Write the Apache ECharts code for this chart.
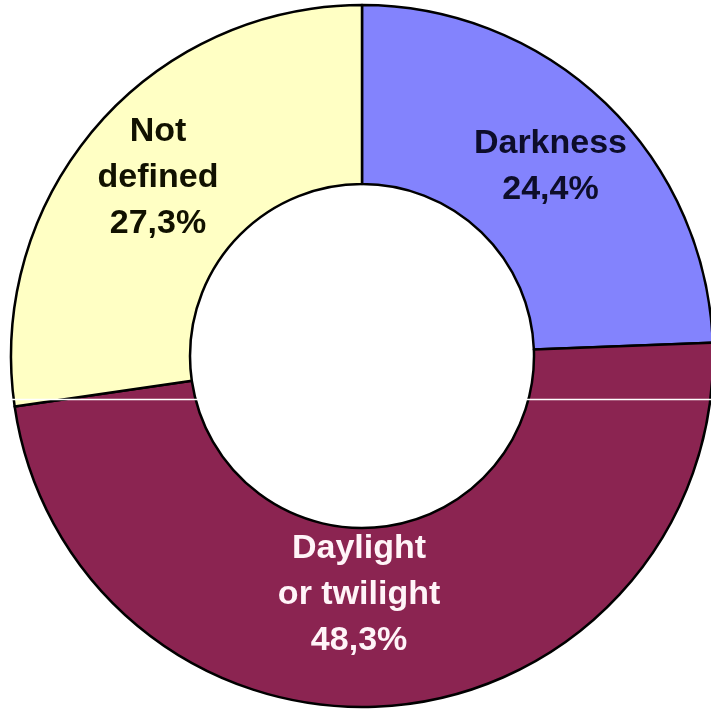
<!DOCTYPE html>
<html>
<head>
<meta charset="utf-8">
<style>
  html, body { margin: 0; padding: 0; background: #ffffff; }
  #chart { width: 711px; height: 709px; }
</style>
<script src="https://cdn.jsdelivr.net/npm/echarts@6/dist/echarts.min.js"></script>
</head>
<body>
<div id="chart"></div>
<script>
// Light conditions share (%)
const categories = ['Darkness', 'Daylight\nor twilight', 'Not\ndefined'];
const shares = [24.4, 48.3, 27.3];
const sliceColors = ['#8383fd', '#8b2451', '#ffffc4'];
const labelColors = ['#0d0d2a', '#fff4f8', '#111100'];
// small nudges of each label away from the ring's mid-radius point
const labelShift = [[5, 1], [-27, -25], [-4, -5]];

const chart = echarts.init(document.getElementById('chart'), null, { renderer: 'canvas' });

const pieData = categories.map((name, i) => ({
  name: name,
  value: shares[i],
  itemStyle: { color: sliceColors[i] },
  label: { color: labelColors[i] }
}));

chart.setOption({
  animation: false,
  backgroundColor: '#ffffff',
  series: [{
    type: 'pie',
    center: [362, 356],
    radius: [172, 351],
    startAngle: 90,
    clockwise: true,
    avoidLabelOverlap: false,
    silent: true,
    emphasis: { disabled: true },
    itemStyle: { borderColor: '#000000', borderWidth: 2.5 },
    label: {
      show: true,
      position: 'inside',
      fontFamily: 'Liberation Sans, Arial, sans-serif',
      fontWeight: 'bold',
      fontSize: 34,
      lineHeight: 46,
      align: 'center',
      formatter: p => p.name + '\n' + p.value.toFixed(1).replace('.', ',') + '%'
    },
    labelLine: { show: false },
    labelLayout: params => ({
      dx: labelShift[params.dataIndex][0],
      dy: labelShift[params.dataIndex][1]
    }),
    data: pieData
  }],
  graphic: [{
    type: 'line',
    silent: true,
    z: 100,
    shape: { x1: 0, y1: 399.5, x2: 711, y2: 399.5 },
    style: { stroke: '#ffffff', lineWidth: 1.5 }
  }]
});
</script>
</body>
</html>
